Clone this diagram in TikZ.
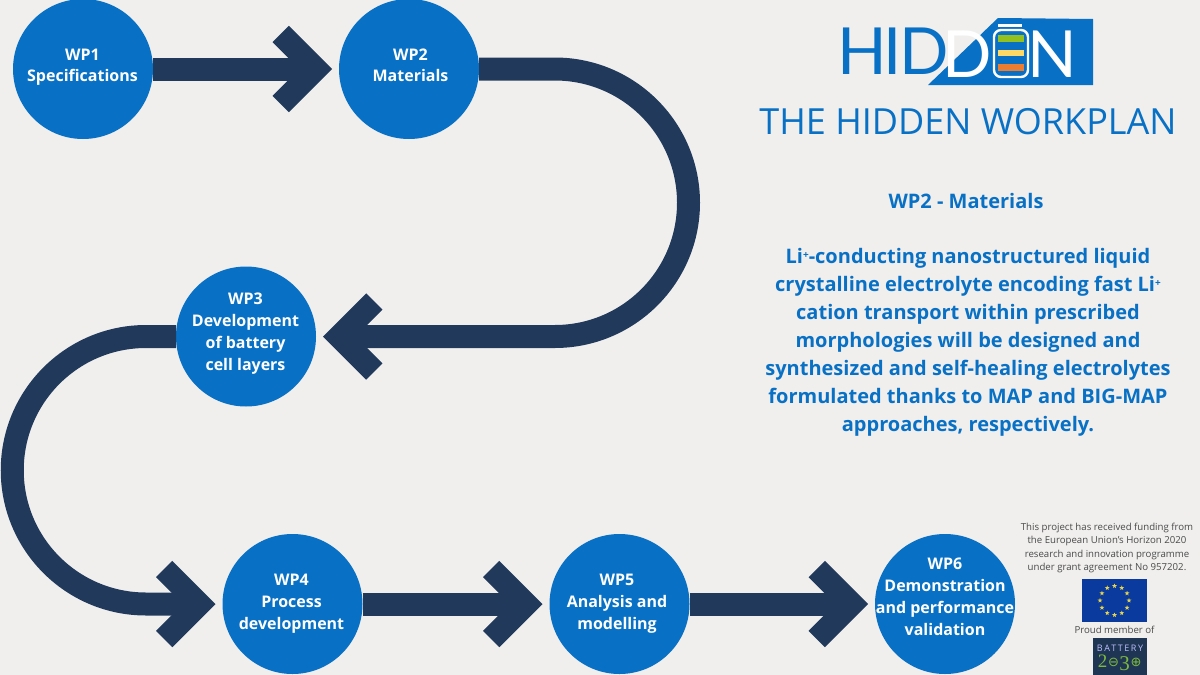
\documentclass[tikz,border=0pt]{standalone}
\usepackage{fontspec}
\setmainfont{Open Sans}
\newfontfamily\logofont{Lato}
\newfontfamily\symfont{DejaVu Sans}
\newfontfamily\numfont{Liberation Serif}
\usetikzlibrary{arrows.meta,shapes.geometric,calc}
\definecolor{bgc}{HTML}{F0EFEE}
\definecolor{wpblue}{HTML}{0871C5}
\definecolor{navy}{HTML}{213A5C}
\definecolor{footgray}{HTML}{4A4A4A}
\definecolor{eublue}{HTML}{0A3A9E}
\definecolor{eustar}{HTML}{E8D44A}
\definecolor{bdark}{HTML}{1E3553}
\definecolor{bgreen}{HTML}{7DB840}
\definecolor{logogreen}{HTML}{95C11F}
\definecolor{logoyellow}{HTML}{FFD966}
\definecolor{logoorange}{HTML}{ED7D31}
\tikzset{
  wp/.style={circle,fill=wpblue,minimum size=140pt,inner sep=0pt,outer sep=0pt},
  wplabel/.style={text=white,anchor=base,inner sep=0pt,align=center,font=\fontsize{16}{21.7}\selectfont\bfseries},
  conn/.style={draw=navy,line width=23pt,-{Straight Barb[length=35pt,width=70pt]},shorten >=7pt},
  body/.style={text=wpblue,align=center,inner sep=0pt,font=\fontsize{20}{28}\selectfont\bfseries},
  foot/.style={text=footgray,align=center,inner sep=0pt,font=\fontsize{9.65}{13.4}\selectfont},
  logotext/.style={anchor=base west,inner sep=0pt,font=\fontsize{65}{65}\logofont},
  bar/.style={minimum width=26pt,inner sep=0pt}
}
\newcommand{\liplus}{Li\raisebox{5pt}{\fontsize{10}{10}\selectfont +}}
\begin{document}
\begin{tikzpicture}[x=1pt,y=-1pt]
\fill[bgc] (0,0) rectangle (1200,675);
\useasboundingbox (0,0) rectangle (1200,675);
% work packages
\node[wp] (wp1) at (83,69) {};
\node[wp] (wp2) at (409,69) {};
\node[wp] (wp3) at (246,336.5) {};
\node[wp] (wp4) at (292.5,604) {};
\node[wp] (wp5) at (619.5,604) {};
\node[wp] (wp6) at (945,604) {};
\node[wplabel] (t1) at (82.5,81.7) {WP1\\Specifications};
\node[wplabel] (t2) at (410.5,81.7) {WP2\\Materials};
\node[wplabel] (t3) at (245.5,370) {WP3\\Development\\of battery\\cell layers};
\node[wplabel] (t4) at (291.5,629) {WP4\\Process\\development};
\node[wplabel] (t5) at (617,629) {WP5\\Analysis and\\modelling};
\node[wplabel] (t6) at (945,635) {WP6\\Demonstration\\and performance\\validation};
% connectors
\draw[conn] (wp1) -- (wp2);
\draw[conn] (wp2.east) -- (554.75,69) arc[start angle=-90,end angle=90,radius=133.75] -- (wp3.east);
\draw[conn] (wp3.west) -- (146,336.5) arc[start angle=270,end angle=90,radius=133.75] -- (wp4.west);
\draw[conn] (wp4) -- (wp5);
\draw[conn] (wp5) -- (wp6);
% logo
\fill[wpblue] (928,85) -- (998,18) -- (1093,19) -- (1093,85) -- cycle;
\node[logotext,text=wpblue] (hid) at (837,74) {\addfontfeature{LetterSpace=-4.6}HID};
\node[logotext,text=white] (d2) at (942,77) {D};
\node[logotext,text=white] (n) at (1027,77) {N};
\draw[white,line width=2.4pt,rounded corners=7pt] (994,30) rectangle (1028,77);
\fill[white] (998,24) rectangle (1022,26.5);
\node[bar,fill=logogreen,minimum height=7pt] (b1) at (1010.5,38.5) {};
\node[bar,fill=logoyellow,minimum height=6pt] (b2) at (1010.5,53) {};
\node[bar,fill=logoorange,minimum height=7pt] (b3) at (1010.5,67.5) {};
% title and description
\node[text=wpblue,inner sep=0pt,font=\fontsize{36}{36}\selectfont] (title) at (968,122) {THE HIDDEN WORKPLAN};
\node[body] (sub) at (966,201) {WP2 - Materials};
\node[body] (desc) at (968,342) {\liplus-conducting nanostructured liquid\\crystalline electrolyte encoding fast \liplus\\cation transport within prescribed\\morphologies will be designed and\\synthesized and self-healing electrolytes\\formulated thanks to MAP and BIG-MAP\\approaches, respectively.};
% funding
\node[foot] (fund) at (1107,548) {This project has received funding from\\the European Union's Horizon 2020\\research and innovation programme\\under grant agreement No 957202.};
\node[fill=eublue,minimum width=65pt,minimum height=43pt,inner sep=0pt] (eu) at (1114.5,600.5) {};
\foreach \a in {0,30,...,330}
  \node[star,star points=5,star point ratio=2.4,fill=eustar,inner sep=0pt,minimum size=5pt] (s\a) at ($(eu)+(\a:14.5pt and 14.5pt)$) {};
\node[foot] (proud) at (1114.5,630) {Proud member of};
\fill[bdark] (1093,638) rectangle (1147,675);
\node[text=white!75!blue,inner sep=0pt,font=\fontsize{9}{9}\selectfont] (batt) at (1120,648) {B\,A\,T\,T\,E\,R\,Y};
\node[text=bgreen,anchor=base,inner sep=0pt,font=\fontsize{19}{19}\numfont] (n2) at (1102.5,667) {2};
\node[text=bgreen,anchor=base,inner sep=0pt,font=\fontsize{13}{13}\symfont] (m) at (1113.5,666) {⊖};
\node[text=bgreen,anchor=base,inner sep=0pt,font=\fontsize{21}{21}\numfont] (n3) at (1124.5,670) {3};
\node[text=bgreen,anchor=base,inner sep=0pt,font=\fontsize{13}{13}\symfont] (p) at (1136,666) {⊕};
\end{tikzpicture}
\end{document}
